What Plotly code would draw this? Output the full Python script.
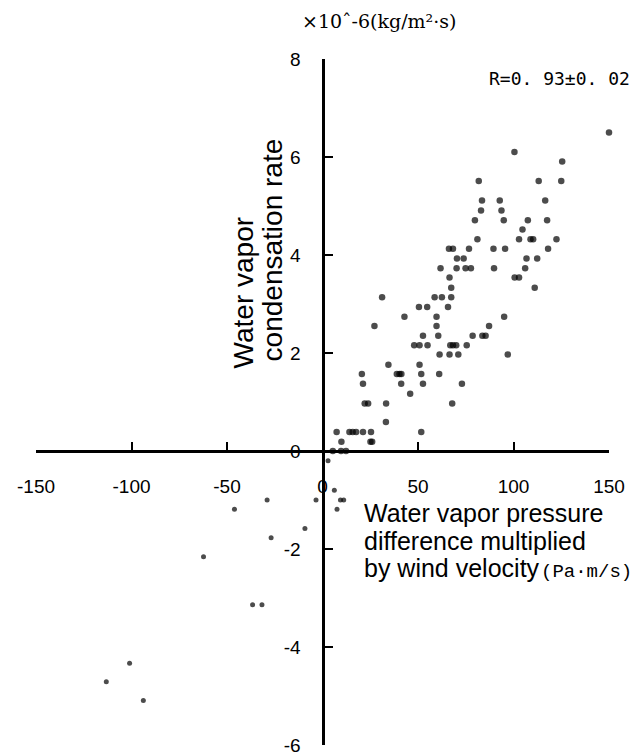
import plotly.graph_objects as go

# Water vapor pressure difference x wind velocity (Pa·m/s)
x_vals = [150.0, 100.5, 125.5, 81.8, 113.2, 125.0, 83.5, 92.8, 116.6, 83.0, 93.7,
          79.8, 94.9, 107.5, 117.6, 104.7, 81.1, 102.9, 108.9, 110.3, 122.5,
          66.2, 68.3, 76.7, 89.5, 95.6, 118.1, 70.4, 73.9, 106.8, 112.4,
          61.8, 70.2, 74.9, 77.7, 89.8, 106.1, 66.5, 100.6, 102.9, 67.4, 111.1,
          31.2, 58.7, 62.5, 67.4,
          50.5, 54.8, 65.7,
          42.9, 59.7, 95.1,
          27.2, 59.7, 87.2,
          52.6, 60.6, 78.6, 83.7, 85.4,
          48.0, 50.8, 55.0, 66.9, 68.3, 70.0, 75.5,
          61.3, 66.5, 71.1, 97.0,
          34.5, 50.8,
          20.6, 38.9, 40.3, 41.3, 51.7, 61.1,
          21.2, 41.2, 52.6, 73.0,
          45.9,
          22.1, 23.9, 33.3, 67.9,
          33.2,
          7.4, 14.1, 15.8, 17.6, 21.2, 25.4, 51.7,
          9.9, 25.1, 26.0,
          5.4, 9.7, 12.3,
          2.9,
          6.2, -3.4, -29.0, 9.4, 11.1, 7.6, -46.1, -9.2, -26.9, -62.3,
          -36.6, -31.7, -101.0, -113.2, -93.8]

# Water vapor condensation rate (x10^-6 kg/m2·s)
y_vals = [6.50, 6.10, 5.91, 5.51, 5.51, 5.51, 5.11, 5.11, 5.11, 4.91, 4.91,
          4.71, 4.71, 4.71, 4.71, 4.52, 4.32, 4.32, 4.32, 4.32, 4.32,
          4.13, 4.13, 4.13, 4.13, 4.13, 4.13, 3.93, 3.93, 3.93, 3.93,
          3.73, 3.73, 3.73, 3.73, 3.73, 3.73, 3.54, 3.54, 3.54, 3.33, 3.33,
          3.14, 3.14, 3.14, 3.14,
          2.94, 2.94, 2.94,
          2.74, 2.74, 2.74,
          2.55, 2.55, 2.55,
          2.35, 2.35, 2.35, 2.35, 2.35,
          2.16, 2.16, 2.16, 2.16, 2.16, 2.16, 2.16,
          1.97, 1.97, 1.97, 1.97,
          1.76, 1.76,
          1.57, 1.57, 1.57, 1.57, 1.57, 1.57,
          1.37, 1.37, 1.37, 1.37,
          1.17,
          0.97, 0.97, 0.97, 0.97,
          0.59,
          0.39, 0.39, 0.39, 0.39, 0.39, 0.39, 0.39,
          0.19, 0.19, 0.19,
          0.0, 0.0, 0.0,
          -0.20,
          -0.80, -1.0, -1.0, -1.0, -1.0, -1.19, -1.19, -1.58, -1.77, -2.16,
          -3.14, -3.14, -4.33, -4.71, -5.09]

x_ticks = [-150, -100, -50, 0, 50, 100, 150]
y_ticks = [-6, -4, -2, 0, 2, 4, 6, 8]
x_range = [-150, 150]
y_range = [-6, 8]

marker_sizes = [6.5 if v >= 0 else 5 for v in y_vals]

fig = go.Figure()
fig.add_trace(go.Scatter(
    x=x_vals, y=y_vals, mode="markers",
    marker=dict(color="black", size=marker_sizes, line=dict(width=0)),
    cliponaxis=False, showlegend=False,
))

tick_font = dict(family="Liberation Sans, Arial, sans-serif", size=19, color="black")

# page body adds an 8px offset; figure sized to fit the 638x756 window
fig.update_layout(
    width=630, height=748,
    margin=dict(l=28, r=28.7, t=51, b=11, autoexpand=False),
    paper_bgcolor="white", plot_bgcolor="white",
    xaxis=dict(
        range=x_range, anchor="free", automargin=False,
        position=(0 - y_range[0]) / (y_range[1] - y_range[0]),
        tickvals=x_ticks, ticktext=[str(v) for v in x_ticks],
        ticks="inside", ticklen=8, tickwidth=2, tickcolor="black",
        showline=True, linewidth=3, linecolor="black",
        showgrid=False, zeroline=False, tickfont=tick_font,
        ticklabelstandoff=17,
    ),
    yaxis=dict(
        range=y_range, anchor="free", automargin=False,
        position=(0 - x_range[0]) / (x_range[1] - x_range[0]),
        tickvals=y_ticks, ticktext=[str(v) for v in y_ticks],
        ticks="inside", ticklen=8, tickwidth=2, tickcolor="black",
        showline=True, linewidth=3, linecolor="black",
        showgrid=False, zeroline=False, tickfont=tick_font,
        ticklabelstandoff=17,
    ),
)

PW, PH = 573.3, 686.0   # plot-area size in px
X0, Y1 = 36.0, 745.0    # absolute left / bottom of plot area


def px(x):
    return (x - X0) / PW


def py(y):
    return (Y1 - y) / PH


title_font = dict(family="Liberation Sans, Arial, sans-serif", size=28, color="black")
xt_font = dict(family="Liberation Sans, Arial, sans-serif", size=25, color="black")

# Y axis title (rotated, two lines)
fig.add_annotation(text="Water vapor", xref="paper", yref="paper",
                   x=px(244), y=py(370), xanchor="center", yanchor="bottom",
                   textangle=-90, showarrow=False, font=title_font)
fig.add_annotation(text="condensation rate", xref="paper", yref="paper",
                   x=px(273), y=py(363), xanchor="center", yanchor="bottom",
                   textangle=-90, showarrow=False, font=title_font)

# X axis title lines
for line, yc in [("Water vapor pressure", 513), ("difference multiplied", 541),
                 ("by wind velocity", 567.5)]:
    fig.add_annotation(text=line, xref="paper", yref="paper",
                       x=px(362), y=py(yc), xanchor="left", yanchor="middle",
                       showarrow=False, font=xt_font)

fig.add_annotation(text="(Pa·m/s)", xref="paper", yref="paper",
                   x=px(634), y=py(572), xanchor="right", yanchor="middle",
                   showarrow=False,
                   font=dict(family="Liberation Mono, monospace", size=19, color="black"))

# Units label at top
fig.add_annotation(text="×10ˆ-6(kg/m²·s)", xref="paper", yref="paper",
                   x=px(300), y=py(21), xanchor="left", yanchor="middle",
                   showarrow=False,
                   font=dict(family="DejaVu Serif, serif", size=19, color="black"))

# Correlation coefficient
fig.add_annotation(text="R=0. 93±0. 02", xref="paper", yref="paper",
                   x=px(487), y=py(78), xanchor="left", yanchor="middle",
                   showarrow=False,
                   font=dict(family="DejaVu Sans Mono, monospace", size=18, color="black"))

fig.write_html("out.html")
